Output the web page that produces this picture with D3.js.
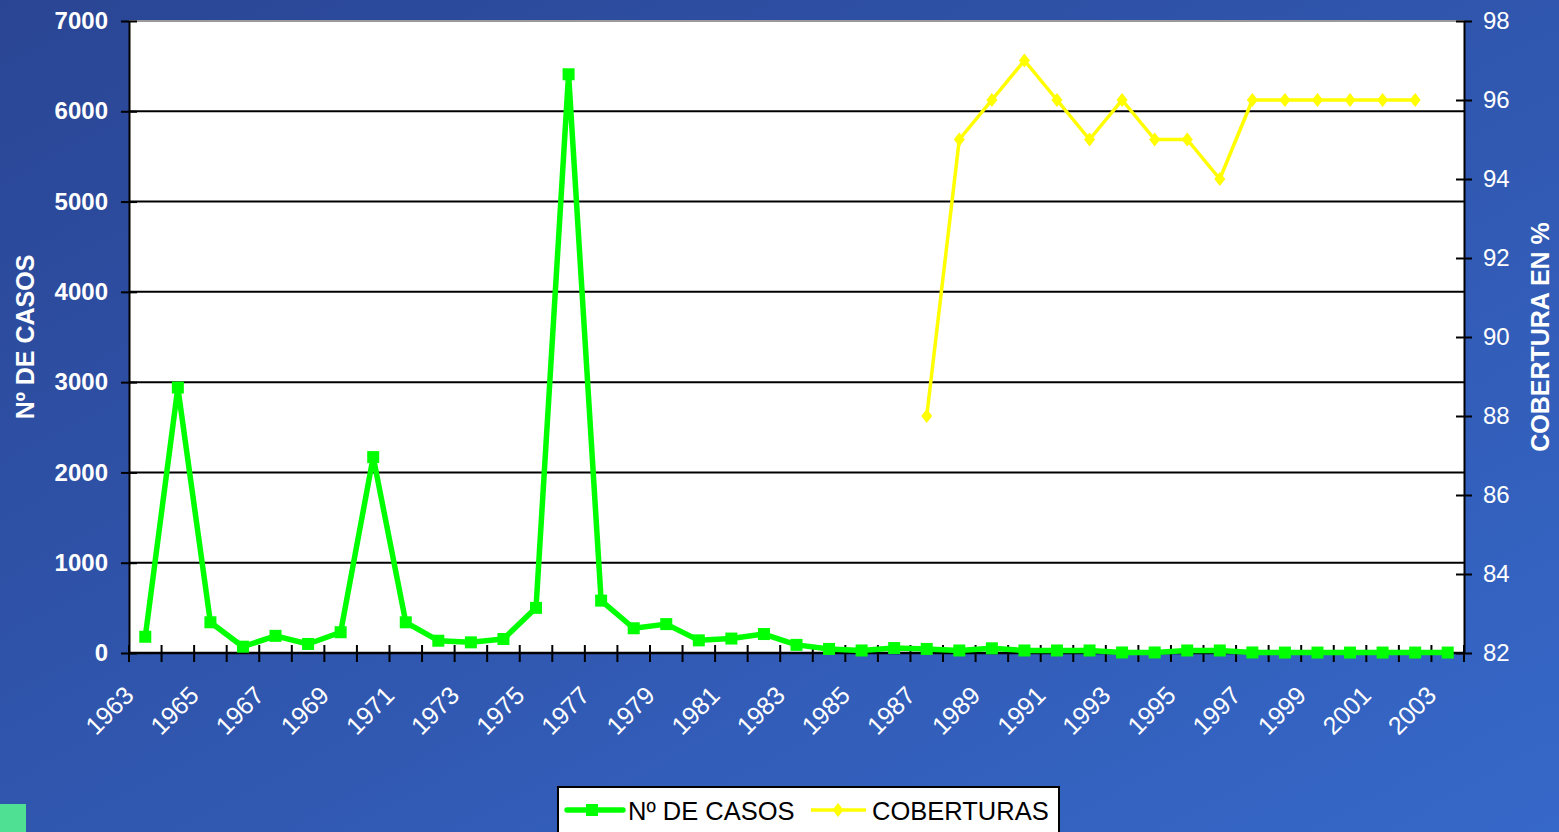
<!DOCTYPE html>
<html>
<head>
<meta charset="utf-8">
<script src="https://cdn.jsdelivr.net/npm/d3@7"></script>
<style>
  html, body { margin: 0; padding: 0; overflow: hidden; }
  svg { display: block; font-family: "Liberation Sans", Arial, sans-serif; }
</style>
</head>
<body>
<svg id="chart" width="1559" height="832"></svg>
<script>
// Categories (one per year)
const years = [1963, 1964, 1965, 1966, 1967, 1968, 1969, 1970, 1971, 1972,
  1973, 1974, 1975, 1976, 1977, 1978, 1979, 1980, 1981, 1982,
  1983, 1984, 1985, 1986, 1987, 1988, 1989, 1990, 1991, 1992,
  1993, 1994, 1995, 1996, 1997, 1998, 1999, 2000, 2001, 2002, 2003];

// Nº de casos (left axis)
const cases = [180, 2940, 340, 70, 190, 100, 230, 2170, 340, 136,
  118, 155, 500, 6410, 580, 274, 320, 140, 160, 210,
  90, 45, 28, 55, 45, 28, 52, 28, 28, 28,
  6, 6, 28, 28, 6, 5, 5, 5, 5, 5, 5];

// Coberturas en % (right axis)
const coverageYears = [1987, 1988, 1989, 1990, 1991, 1992, 1993, 1994,
  1995, 1996, 1997, 1998, 1999, 2000, 2001, 2002];
const coverage = [88, 95, 96, 97, 96, 95, 96, 95, 95, 94, 96, 96, 96, 96, 96, 96];

// Tick labels
const yearLabels = [1963, 1965, 1967, 1969, 1971, 1973, 1975, 1977, 1979, 1981,
  1983, 1985, 1987, 1989, 1991, 1993, 1995, 1997, 1999, 2001, 2003];
const leftTicks = [0, 1000, 2000, 3000, 4000, 5000, 6000, 7000];
const rightTicks = [82, 84, 86, 88, 90, 92, 94, 96, 98];

const svg = d3.select("#chart");
const plot = {left: 129, right: 1464, top: 21, bottom: 653};

// Background gradient
const defs = svg.append("defs");
const grad = defs.append("linearGradient")
  .attr("id", "bg")
  .attr("x1", "0").attr("y1", "0")
  .attr("x2", "1").attr("y2", "1");
grad.append("stop").attr("offset", "0").attr("stop-color", "#2a4594");
grad.append("stop").attr("offset", "1").attr("stop-color", "#3668c9");

svg.append("rect")
  .attr("width", 1559).attr("height", 832)
  .attr("fill", "url(#bg)");

// Little green square in the corner of the slide
svg.append("rect")
  .attr("x", 0).attr("y", 804)
  .attr("width", 26).attr("height", 28)
  .attr("fill", "#4fe093");

// Scales
const x = d3.scaleBand()
  .domain(years)
  .range([plot.left, plot.right])
  .padding(0);
const cx = (d) => x(d) + x.bandwidth() / 2;

const yL = d3.scaleLinear().domain([0, 7000]).range([plot.bottom, plot.top]);
const yR = d3.scaleLinear().domain([82, 98]).range([plot.bottom, plot.top]);

// Plot area
svg.append("rect")
  .attr("x", plot.left).attr("y", plot.top)
  .attr("width", plot.right - plot.left)
  .attr("height", plot.bottom - plot.top)
  .attr("fill", "#ffffff");

// Gridlines
svg.append("g")
  .selectAll("line")
  .data(leftTicks.filter((t) => t > 0))
  .enter().append("line")
  .attr("x1", plot.left).attr("x2", plot.right)
  .attr("y1", (d) => yL(d)).attr("y2", (d) => yL(d))
  .attr("stroke", (d) => d === 7000 ? "#9a9a9a" : "#000000")
  .attr("stroke-width", 2);

// Left axis
const leftAxis = svg.append("g")
  .attr("transform", "translate(" + plot.left + ",0)")
  .call(d3.axisLeft(yL)
    .tickValues(leftTicks)
    .tickFormat(d3.format("d"))
    .tickSizeInner(8)
    .tickSizeOuter(0)
    .tickPadding(13));
leftAxis.select(".domain").attr("stroke", "#000").attr("stroke-width", 2);
leftAxis.selectAll(".tick line")
  .attr("x1", 8).attr("x2", -8)
  .attr("stroke", "#000").attr("stroke-width", 2);
leftAxis.selectAll(".tick text")
  .attr("fill", "#ffffff")
  .style("font-size", "24px")
  .style("font-weight", "bold")
  .style("font-family", "Liberation Sans, Arial, sans-serif");

// Right axis
const rightAxis = svg.append("g")
  .attr("transform", "translate(" + plot.right + ",0)")
  .call(d3.axisRight(yR)
    .tickValues(rightTicks)
    .tickSizeInner(8)
    .tickSizeOuter(0)
    .tickPadding(11));
rightAxis.select(".domain").attr("stroke", "#000").attr("stroke-width", 2);
rightAxis.selectAll(".tick line")
  .attr("x1", -8).attr("x2", 8)
  .attr("stroke", "#000").attr("stroke-width", 2);
rightAxis.selectAll(".tick text")
  .attr("fill", "#ffffff")
  .style("font-size", "24px")
  .style("font-family", "Liberation Sans, Arial, sans-serif");

// Bottom axis: ticks between categories
const bottom = svg.append("g");
bottom.append("line")
  .attr("x1", plot.left).attr("x2", plot.right)
  .attr("y1", plot.bottom).attr("y2", plot.bottom)
  .attr("stroke", "#000").attr("stroke-width", 2.5);
bottom.selectAll(".xtick")
  .data(years.map((d) => x(d)).concat([plot.right]))
  .enter().append("line")
  .attr("class", "xtick")
  .attr("x1", (d) => d).attr("x2", (d) => d)
  .attr("y1", plot.bottom - 8).attr("y2", plot.bottom + 9)
  .attr("stroke", "#000").attr("stroke-width", 2);
bottom.selectAll(".xlabel")
  .data(yearLabels)
  .enter().append("text")
  .attr("class", "xlabel")
  .attr("transform", (d) => "translate(" + (cx(d) - 10) + "," + (plot.bottom + 44) + ") rotate(-45)")
  .attr("text-anchor", "end")
  .attr("fill", "#ffffff")
  .style("font-size", "25px")
  .text((d) => d);

// Axis titles
svg.append("text")
  .attr("transform", "translate(34," + ((plot.top + plot.bottom) / 2) + ") rotate(-90)")
  .attr("text-anchor", "middle")
  .attr("fill", "#ffffff")
  .style("font-size", "25px")
  .style("font-weight", "bold")
  .text("Nº DE CASOS");

svg.append("text")
  .attr("transform", "translate(1549," + ((plot.top + plot.bottom) / 2) + ") rotate(-90)")
  .attr("text-anchor", "middle")
  .attr("fill", "#ffffff")
  .style("font-size", "25px")
  .style("font-weight", "bold")
  .text("COBERTURA EN %");

// Series: Nº de casos
const casesData = years.map((d, i) => ({year: d, value: cases[i]}));
svg.append("path")
  .datum(casesData)
  .attr("fill", "none")
  .attr("stroke", "#00ff00")
  .attr("stroke-width", 5.5)
  .attr("stroke-linejoin", "round")
  .attr("d", d3.line().x((d) => cx(d.year)).y((d) => yL(d.value)));
svg.append("g")
  .selectAll("rect")
  .data(casesData)
  .enter().append("rect")
  .attr("x", (d) => cx(d.year) - 6)
  .attr("y", (d) => yL(d.value) - 6)
  .attr("width", 12).attr("height", 12)
  .attr("fill", "#00ff00");

// Series: coberturas
const coverageData = coverageYears.map((d, i) => ({year: d, value: coverage[i]}));
const diamond = (px, py) => "M" + px + "," + (py - 7) + "L" + (px + 5.5) + "," + py +
  "L" + px + "," + (py + 7) + "L" + (px - 5.5) + "," + py + "Z";
svg.append("path")
  .datum(coverageData)
  .attr("fill", "none")
  .attr("stroke", "#ffff00")
  .attr("stroke-width", 3.5)
  .attr("stroke-linejoin", "round")
  .attr("d", d3.line().x((d) => cx(d.year)).y((d) => yR(d.value)));
svg.append("g")
  .selectAll("path")
  .data(coverageData)
  .enter().append("path")
  .attr("d", (d) => diamond(cx(d.year), yR(d.value)))
  .attr("fill", "#ffff00");

// Legend
const legend = svg.append("g");
legend.append("rect")
  .attr("x", 558).attr("y", 787)
  .attr("width", 501).attr("height", 60)
  .attr("fill", "#ffffff")
  .attr("stroke", "#000").attr("stroke-width", 2);
legend.append("line")
  .attr("x1", 567).attr("x2", 623).attr("y1", 810).attr("y2", 810)
  .attr("stroke", "#00ff00").attr("stroke-width", 5.5).attr("stroke-linecap", "round");
legend.append("rect")
  .attr("x", 586).attr("y", 804).attr("width", 12).attr("height", 12)
  .attr("fill", "#00ff00");
legend.append("text")
  .attr("x", 628).attr("y", 820)
  .attr("fill", "#000")
  .style("font-size", "25.5px")
  .text("Nº DE CASOS");
legend.append("line")
  .attr("x1", 811).attr("x2", 866).attr("y1", 810).attr("y2", 810)
  .attr("stroke", "#ffff00").attr("stroke-width", 3.5);
legend.append("path")
  .attr("d", diamond(838, 810))
  .attr("fill", "#ffff00");
legend.append("text")
  .attr("x", 872).attr("y", 820)
  .attr("fill", "#000")
  .style("font-size", "25.5px")
  .text("COBERTURAS");
</script>
</body>
</html>
